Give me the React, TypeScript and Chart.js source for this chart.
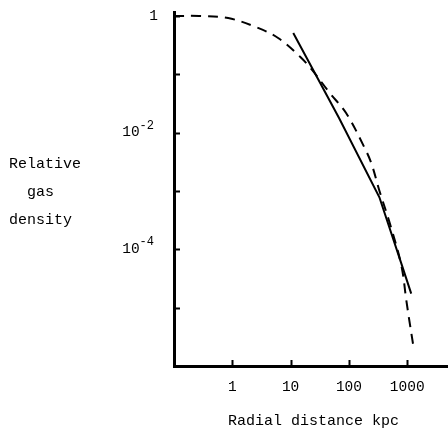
import React, { useEffect, useRef } from 'react';
import { Chart, registerables } from 'chart.js';

Chart.register(...registerables);

// Axis ticks
const X_TICKS = [1, 10, 100, 1000];
const X_TICK_LABELS = ['1', '10', '100', '1000'];
const Y_TICKS = [1, 1e-1, 1e-2, 1e-3, 1e-4, 1e-5];
// [base, exponent] ; empty = unlabeled tick
const Y_TICK_BASES = ['1', '', '10', '', '10', ''];
const Y_TICK_EXPS = ['', '', '-2', '', '-4', ''];

// Dashed curve (model profile)
const DASHED_R = [0.1, 0.27, 0.85, 2.5, 6.1, 14.7, 23.5, 46, 90, 184, 242, 332, 513, 792, 966, 1087, 1273];
const DASHED_RHO = [1, 1, 0.92, 0.65, 0.42, 0.198, 0.118, 0.049, 0.0215, 0.0056, 0.003, 0.00102, 0.00026, 5.3e-5, 1.32e-5, 6.0e-6, 2.2e-6];

// Solid line (power-law fit)
const SOLID_R = [11.1, 68, 333, 793, 1170];
const SOLID_RHO = [0.51, 0.0177, 7.8e-4, 5.7e-5, 1.74e-5];

const Y_TITLE = ['Relative', '  gas', 'density'];
const X_TITLE = 'Radial distance kpc';

const FONT = '"Liberation Mono", "DejaVu Sans Mono", monospace';

const decorPlugin = {
  id: 'decor',
  afterDraw(chart: any) {
    const ctx = chart.ctx;
    const xs = chart.scales.x;
    const ys = chart.scales.y;
    const area = chart.chartArea;
    ctx.save();
    ctx.strokeStyle = '#000';
    ctx.fillStyle = '#000';
    ctx.lineWidth = 2;
    // inward tick marks
    ctx.beginPath();
    Y_TICKS.forEach((v) => {
      const py = Math.round(ys.getPixelForValue(v)) + 0.5;
      ctx.moveTo(area.left, py);
      ctx.lineTo(area.left + 6, py);
    });
    X_TICKS.forEach((v) => {
      const px = Math.round(xs.getPixelForValue(v)) + 0.5;
      ctx.moveTo(px, area.bottom);
      ctx.lineTo(px, area.bottom - 6);
    });
    ctx.stroke();

    // y tick labels with superscripts
    const baseFont = '14.5px ' + FONT;
    const expFont = '12px ' + FONT;
    ctx.textBaseline = 'middle';
    ctx.textAlign = 'left';
    Y_TICKS.forEach((v, i) => {
      const base = Y_TICK_BASES[i];
      if (!base) return;
      const exp = Y_TICK_EXPS[i];
      const py = ys.getPixelForValue(v);
      ctx.font = baseFont;
      const bw = ctx.measureText(base).width;
      ctx.font = expFont;
      const ew = exp ? ctx.measureText(exp).width : 0;
      const right = exp ? 154 : 158;
      const x0 = right - bw - ew;
      ctx.font = baseFont;
      ctx.fillText(base, x0, py);
      if (exp) {
        ctx.font = expFont;
        ctx.fillText(exp, x0 + bw, py - 7);
      }
    });

    // y title
    ctx.font = '15px ' + FONT;
    ctx.textBaseline = 'alphabetic';
    ctx.textAlign = 'left';
    Y_TITLE.forEach((line, i) => {
      ctx.fillText(line, 9, 168 + i * 28);
    });
    // x title
    ctx.fillText(X_TITLE, 228, 425);
    ctx.restore();
  },
};

export default function App() {
  const ref = useRef<HTMLCanvasElement>(null);
  useEffect(() => {
    if (!ref.current) return;
    const chart = new Chart(ref.current, {
      type: 'line',
      data: {
        datasets: [
          {
            label: 'model',
            data: DASHED_R.map((r, i) => ({ x: r, y: DASHED_RHO[i] })),
            borderColor: '#000',
            borderWidth: 2,
            borderDash: [10, 7],
            pointRadius: 0,
            tension: 0.35,
            fill: false,
          },
          {
            label: 'fit',
            data: SOLID_R.map((r, i) => ({ x: r, y: SOLID_RHO[i] })),
            borderColor: '#000',
            borderWidth: 2,
            pointRadius: 0,
            tension: 0,
            fill: false,
          },
        ],
      },
      options: {
        animation: false,
        responsive: true,
        maintainAspectRatio: false,
        layout: { padding: { left: 0, right: 0, top: 12, bottom: 0 } },
        plugins: { legend: { display: false }, tooltip: { enabled: false } },
        scales: {
          x: {
            type: 'logarithmic',
            min: 0.1,
            max: 5000,
            afterBuildTicks: (s: any) => {
              s.ticks = X_TICKS.map((v) => ({ value: v }));
            },
            afterFit: (s: any) => {
              s.height = 67;
            },
            grid: { display: false, drawTicks: false },
            border: { display: true, color: '#000', width: 3 },
            ticks: {
              padding: 12,
              color: '#000',
              autoSkip: false,
              maxRotation: 0,
              font: { family: FONT, size: 14.5 },
              callback: (_v: any, i: number) => X_TICK_LABELS[i],
            },
          },
          y: {
            type: 'logarithmic',
            min: 1e-6,
            max: 1.17,
            afterBuildTicks: (s: any) => {
              s.ticks = Y_TICKS.map((v) => ({ value: v }));
            },
            afterFit: (s: any) => {
              s.width = 174;
            },
            grid: { display: false, drawTicks: false },
            border: { display: true, color: '#000', width: 3 },
            ticks: { display: false },
          },
        },
      },
      plugins: [decorPlugin],
    });
    return () => chart.destroy();
  }, []);
  return (
    <div style={{ position: 'absolute', left: 0, top: 0, width: 448, height: 433, background: '#fff' }}>
      <canvas ref={ref} />
    </div>
  );
}
